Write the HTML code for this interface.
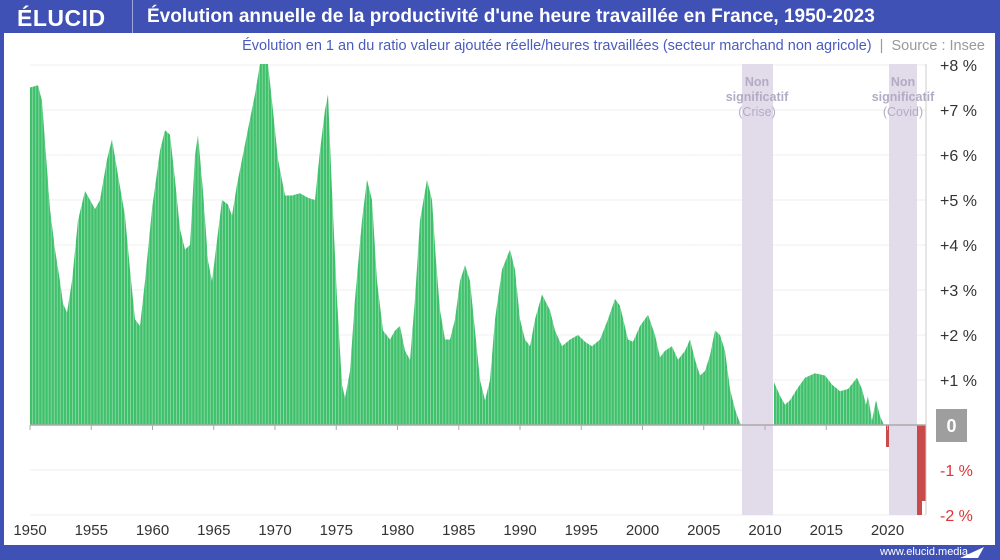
<!DOCTYPE html>
<html><head><meta charset="utf-8"><style>
html,body{margin:0;padding:0;}
body{width:1000px;height:560px;background:#3f51b5;position:relative;overflow:hidden;font-family:"Liberation Sans",sans-serif;}
#panel{position:absolute;left:4px;top:33px;width:991px;height:512px;background:#fff;}
.t{position:absolute;white-space:nowrap;}
</style></head><body>
<div class="t" style="left:17px;top:5px;color:#fff;font-weight:bold;font-size:23px;letter-spacing:0.5px;">ÉLUCID</div>
<div style="position:absolute;left:132px;top:0;width:1px;height:33px;background:#9fa8da"></div>
<div class="t" style="left:147px;top:6px;color:#fff;font-weight:bold;font-size:19px;">Évolution annuelle de la productivité d'une heure travaillée en France, 1950-2023</div>
<div id="panel"></div>
<div class="t" style="right:15px;top:38px;font-size:14.5px;color:#4a5bbf;">Évolution en 1 an du ratio valeur ajoutée réelle/heures travaillées (secteur marchand non agricole) <span style="color:#999">&nbsp;|&nbsp; Source : Insee</span></div>
<svg width="1000" height="560" style="position:absolute;left:0;top:0" font-family="Liberation Sans, sans-serif">
<defs><pattern id="gap" x="30" y="0" width="3.06" height="10" patternUnits="userSpaceOnUse"><rect x="2.5" y="0" width="0.56" height="10" fill="#fff" fill-opacity="0.6"/></pattern></defs>
<g stroke="#eee" stroke-width="1">
<line x1="30" x2="926" y1="515" y2="515"/><line x1="30" x2="926" y1="470" y2="470"/>
<line x1="30" x2="926" y1="380" y2="380"/><line x1="30" x2="926" y1="335" y2="335"/><line x1="30" x2="926" y1="290" y2="290"/><line x1="30" x2="926" y1="245" y2="245"/><line x1="30" x2="926" y1="200" y2="200"/><line x1="30" x2="926" y1="155" y2="155"/><line x1="30" x2="926" y1="110" y2="110"/><line x1="30" x2="926" y1="65" y2="65"/>
</g>
<rect x="742" y="64" width="31" height="451" fill="#e2dcea"/><rect x="889" y="64" width="28" height="451" fill="#e2dcea"/>
<polygon fill="#3fc06b" points="30,425 30,87.5 38,85.25 42,101 46,155 50,209 55,249.5 60,281 63,303.5 67,312.5 72,281 78,220.25 85,191 90,200 95,209 100,200 107,159.5 112,139.25 118,175.25 125,215.75 130,269.75 135,319.25 140,326 145,281 152,209 160,150.5 165,130.25 170,134.75 175,179.75 180,229.25 185,249.5 190,245 195,155 198,134.75 203,191 208,260.75 212,281 217,240.5 222,200 228,204.5 232,215.75 237,184.25 242,159.5 250,119 255,94.25 260,64 268,64 272,101 278,159.5 285,195.5 292,195.5 300,193.25 308,197.75 315,200 320,150.5 325,110 328,94.25 332,191 337,299 342,384.5 345,398 350,371 355,299 362,220.25 367,179.75 372,200 377,281 383,330.5 390,339.5 395,330.5 400,326 405,350.75 410,359.75 415,299 420,220.25 427,179.75 432,200 436,260.75 440,310.25 445,339.5 450,339.5 455,319.25 460,281 465,265.25 470,281 475,330.5 480,380 485,400.25 490,380 495,319.25 502,269.75 510,249.5 515,269.75 520,319.25 525,339.5 530,346.25 535,319.25 542,294.5 550,310.25 555,330.5 562,346.25 570,339.5 578,335 585,341.75 592,346.25 600,339.5 608,319.25 615,299 620,305.75 628,339.5 633,341.75 640,326 648,314.75 655,335 660,357.5 665,350.75 672,346.25 678,359.75 685,350.75 690,339.5 695,359.75 700,375.5 705,371 710,355.25 715,330.5 720,335 725,350.75 730,389 735,409.25 739,420.5 741,425"/>
<polygon fill="#3fc06b" points="774,425 774,382.25 780,395.75 785,404.75 790,400.25 797,389 805,377.75 815,373.25 825,375.5 832,384.5 840,391.25 848,389 857,377.75 862,389 866,404.75 868,395.75 872,420.5 876,400.25 880,416 884,425"/>
<rect x="30" y="60" width="712" height="365" fill="url(#gap)"/>
<rect x="773" y="370" width="116" height="55" fill="url(#gap)"/>
<rect x="886" y="425" width="3" height="22" fill="#c94a4a"/>
<rect x="917" y="425" width="5" height="90" fill="#c94a4a"/><rect x="922" y="425" width="4" height="76" fill="#c94a4a"/>
<line x1="30" x2="926" y1="425" y2="425" stroke="#aaa" stroke-width="1.5"/>
<line x1="926" x2="926" y1="64" y2="515" stroke="#ccc" stroke-width="1"/>
<g stroke="#aaa"><line x1="30" x2="30" y1="425" y2="430"/><line x1="91.25" x2="91.25" y1="425" y2="430"/><line x1="152.5" x2="152.5" y1="425" y2="430"/><line x1="213.75" x2="213.75" y1="425" y2="430"/><line x1="275" x2="275" y1="425" y2="430"/><line x1="336.25" x2="336.25" y1="425" y2="430"/><line x1="397.5" x2="397.5" y1="425" y2="430"/><line x1="458.75" x2="458.75" y1="425" y2="430"/><line x1="520" x2="520" y1="425" y2="430"/><line x1="581.25" x2="581.25" y1="425" y2="430"/><line x1="642.5" x2="642.5" y1="425" y2="430"/><line x1="703.75" x2="703.75" y1="425" y2="430"/><line x1="765" x2="765" y1="425" y2="430"/><line x1="826.25" x2="826.25" y1="425" y2="430"/><line x1="887.5" x2="887.5" y1="425" y2="430"/></g>
<g font-size="15" fill="#333" text-anchor="middle">
<text x="30" y="535">1950</text><text x="91.25" y="535">1955</text><text x="152.5" y="535">1960</text><text x="213.75" y="535">1965</text><text x="275" y="535">1970</text><text x="336.25" y="535">1975</text><text x="397.5" y="535">1980</text><text x="458.75" y="535">1985</text><text x="520" y="535">1990</text><text x="581.25" y="535">1995</text><text x="642.5" y="535">2000</text><text x="703.75" y="535">2005</text><text x="765" y="535">2010</text><text x="826.25" y="535">2015</text><text x="887.5" y="535">2020</text>
</g>
<g font-size="16" fill="#333">
<text x="940" y="71">+8 %</text><text x="940" y="116">+7 %</text><text x="940" y="161">+6 %</text><text x="940" y="206">+5 %</text><text x="940" y="251">+4 %</text><text x="940" y="296">+3 %</text><text x="940" y="341">+2 %</text><text x="940" y="386">+1 %</text>
<text x="940" y="476" fill="#d33">-1 %</text><text x="940" y="521" fill="#d33">-2 %</text>
</g>
<rect x="936" y="409" width="31" height="33" fill="#9e9e9e"/><text x="951.5" y="432" text-anchor="middle" font-size="18" font-weight="bold" fill="#fff">0</text>
<g font-size="12.5" fill="#b3abc4" text-anchor="middle">
<text x="757" y="86" font-weight="bold">Non</text><text x="757" y="101" font-weight="bold">significatif</text><text x="757" y="116">(Crise)</text>
<text x="903" y="86" font-weight="bold">Non</text><text x="903" y="101" font-weight="bold">significatif</text><text x="903" y="116">(Covid)</text>
</g>
</svg>
<div class="t" style="right:32px;top:546px;font-size:11px;color:#fff;">www.elucid.media</div>
<svg width="30" height="15" style="position:absolute;left:958px;top:545px"><polygon points="2,13 26,2 20,13" fill="#fff"/></svg>
</body></html>
